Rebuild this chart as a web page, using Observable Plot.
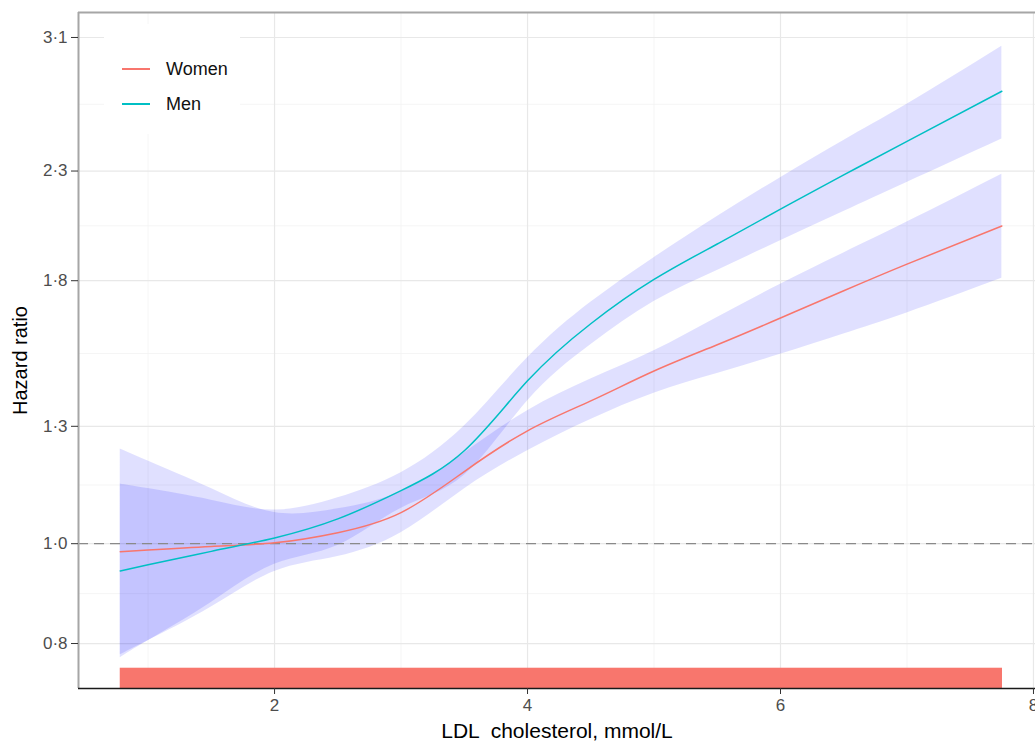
<!DOCTYPE html>
<html>
<head>
<meta charset="utf-8">
<script src="https://cdn.jsdelivr.net/npm/d3@7"></script>
<script src="https://cdn.jsdelivr.net/npm/@observablehq/plot@0.6"></script>
<style>
  body { margin: 0; background: #fff; }
  #wrap { position: relative; width: 1035px; height: 746px; font-family: "Liberation Sans", Arial, sans-serif; }
  .legend { position: absolute; left: 104px; top: 24px; width: 136px; height: 110px; background: #fff; }
  .item { position: absolute; left: 18px; height: 20px; display: flex; align-items: center; font-size: 18px; color: #111; }
  .key { display: inline-block; width: 28px; height: 2px; margin-right: 16px; }
</style>
</head>
<body>
<div id="wrap"></div>
<script>
// LDL cholesterol (mmol/L) grid of the fitted curves
const ldl     = [0.78, 1.0, 1.5, 2.0, 2.5, 3.0, 3.5, 4.0, 4.5, 5.0, 5.5, 6.0, 6.5, 7.0, 7.75];
// Women: hazard ratio and 95% CI
const womenHR = [0.982, 0.986, 0.994, 1.002, 1.025, 1.072, 1.175, 1.287, 1.376, 1.471, 1.56, 1.656, 1.76, 1.868, 2.034];
const womenLo = [0.78, 0.805, 0.868, 0.94, 0.972, 1.025, 1.13, 1.231, 1.32, 1.40, 1.463, 1.527, 1.598, 1.675, 1.81];
const womenHi = [1.236, 1.203, 1.131, 1.072, 1.081, 1.123, 1.225, 1.346, 1.445, 1.539, 1.658, 1.786, 1.915, 2.052, 2.284];
// Men: hazard ratio and 95% CI
const menHR   = [0.941, 0.954, 0.983, 1.013, 1.057, 1.126, 1.231, 1.439, 1.635, 1.805, 1.954, 2.112, 2.28, 2.458, 2.749];
const menLo   = [0.775, 0.805, 0.877, 0.955, 0.996, 1.082, 1.165, 1.376, 1.56, 1.718, 1.842, 1.968, 2.101, 2.242, 2.471];
const menHi   = [1.143, 1.131, 1.102, 1.078, 1.108, 1.172, 1.301, 1.515, 1.715, 1.895, 2.078, 2.266, 2.463, 2.67, 3.04];
// observed LDL range (rug)
const rugRange = [0.78, 7.755];
// axes
const xTicks = [2, 4, 6, 8];
const xMinor = [1, 3, 5, 7];
const yTicks = [0.8, 1.0, 1.3, 1.8, 2.3, 3.1];
const yDomain = [0.7235, 3.278];
const xDomain = [0.45, 8.016];
const series = ["Women", "Men"];
const seriesColors = ["#F8766D", "#00BFC4"];

const yMinor = yTicks.slice(1).map((t, i) => Math.sqrt(t * yTicks[i]));

const rows = ldl.flatMap((x, i) => [
  {sex: "Women", x, hr: womenHR[i], lo: womenLo[i], hi: womenHi[i]},
  {sex: "Men", x, hr: menHR[i], lo: menLo[i], hi: menHi[i]}
]);

const W = 1035, H = 746;
const mTop = 12, mBottom = 58, mLeft = 78, mRight = 0;
const panelH = H - mTop - mBottom;
const fmt = d => d.toFixed(1).replace(".", "·");
const curve = "natural";

const chart = Plot.plot({
  width: W, height: H,
  marginTop: mTop, marginBottom: mBottom, marginLeft: mLeft, marginRight: mRight,
  style: {fontFamily: '"Liberation Sans", Arial, sans-serif', background: "#fff"},
  x: {domain: xDomain},
  y: {type: "log", domain: yDomain},
  marks: [
    Plot.gridX(xMinor, {stroke: "#f2f2f2", strokeOpacity: 1, strokeWidth: 0.8}),
    Plot.gridY(yMinor, {stroke: "#f2f2f2", strokeOpacity: 1, strokeWidth: 0.8}),
    Plot.gridX(xTicks, {stroke: "#e8e8e8", strokeOpacity: 1, strokeWidth: 1.2}),
    Plot.gridY(yTicks, {stroke: "#e8e8e8", strokeOpacity: 1, strokeWidth: 1.2}),
    Plot.areaY(rows, {x: "x", y1: "lo", y2: "hi", z: "sex", fill: "blue", fillOpacity: 0.12, curve}),
    Plot.ruleY([1], {stroke: "#8a8a8a", strokeWidth: 1.3, strokeDasharray: "10,6"}),
    ...series.map((s, i) => Plot.line(rows.filter(d => d.sex === s), {x: "x", y: "hr", stroke: seriesColors[i], strokeWidth: 1.5, curve})),
    Plot.rect([{x1: rugRange[0], x2: rugRange[1]}], {x1: "x1", x2: "x2", fill: "#F8766D", insetTop: panelH * 0.97}),
    Plot.ruleX([xDomain[0]], {stroke: "#a6a6a6", strokeWidth: 2}),
    Plot.ruleY([yDomain[1]], {stroke: "#a6a6a6", strokeWidth: 2}),
    Plot.ruleY([yDomain[0]], {stroke: "#1a1a1a", strokeWidth: 1.3}),
    Plot.axisX(xTicks, {tickSize: 6, tickPadding: 4, fontSize: 17, color: "#4d4d4d", stroke: "#333", tickFormat: d => String(d), label: null}),
    Plot.axisY(yTicks, {tickSize: 7, tickPadding: 4, fontSize: 17, color: "#4d4d4d", stroke: "#333", tickFormat: fmt, label: null}),
    Plot.text(["LDL  cholesterol, mmol/L"], {frameAnchor: "bottom", dy: 43, fontSize: 21, fill: "#000", textAnchor: "middle", lineAnchor: "middle"}),
    Plot.text(["Hazard ratio"], {frameAnchor: "left", dx: -58, dy: 10, rotate: -90, fontSize: 20, fill: "#000", textAnchor: "middle", lineAnchor: "middle"})
  ]
});

const wrap = document.getElementById("wrap");
wrap.appendChild(chart);

const legend = document.createElement("div");
legend.className = "legend";
series.forEach((s, i) => {
  const it = document.createElement("div");
  it.className = "item";
  it.style.top = (35 + i * 35) + "px";
  const k = document.createElement("span");
  k.className = "key";
  k.style.background = seriesColors[i];
  const t = document.createElement("span");
  t.textContent = s;
  it.appendChild(k); it.appendChild(t);
  legend.appendChild(it);
});
wrap.appendChild(legend);
</script>
</body>
</html>
